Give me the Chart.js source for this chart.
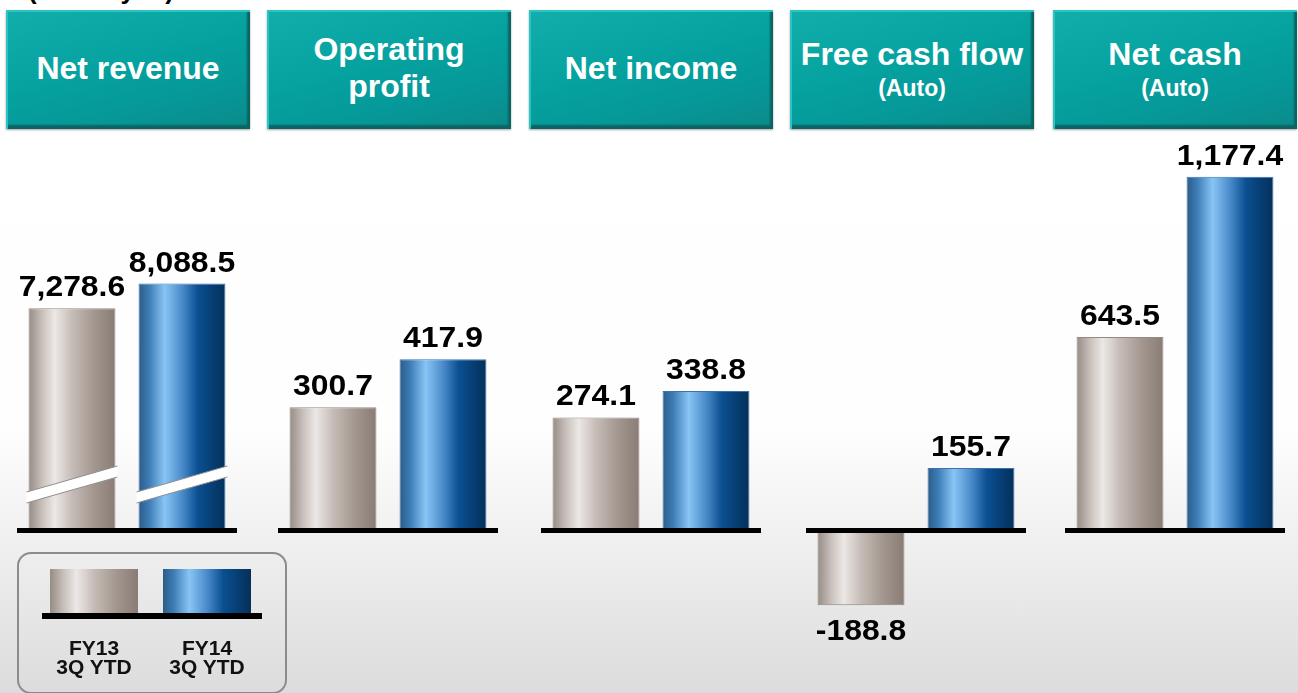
<!DOCTYPE html>
<html>
<head>
<meta charset="utf-8">
<script src="https://cdn.jsdelivr.net/npm/chart.js@4.4.1/dist/chart.umd.min.js"></script>
<style>
    html, body {
        margin: 0;
        padding: 0;
    }

    body {
        width: 1298px;
        height: 693px;
        overflow: hidden;
        position: relative;
        font-family: "Liberation Sans", Arial, sans-serif;
        background: linear-gradient(to bottom, #ffffff 0%, #fefefe 62%, #dcdcdc 100%);
    }

    .unit {
        position: absolute;
        left: 28px;
        top: -23px;
        font-size: 26px;
        line-height: 26px;
        font-weight: bold;
        color: #000;
        white-space: nowrap;
    }

    .head {
        position: absolute;
        top: 10px;
        width: 244px;
        height: 119px;
        box-sizing: border-box;
        display: flex;
        flex-direction: column;
        justify-content: center;
        align-items: center;
        color: #fff;
        font-weight: bold;
        text-align: center;
        background: linear-gradient(165deg, #13aeac 0%, #05a29f 45%, #06999a 70%, #0a8b89 100%);
        box-shadow: inset 2px 2px 0 #2cc4c2, inset -3px -4px 2px #0b6362, 0 1px 2px rgba(0, 0, 0, 0.35);
    }

    .head .main {
        font-size: 32px;
        line-height: 37px;
        margin-top: -3px;
    }

    .head .note {
        font-size: 23px;
        line-height: 26px;
        margin-top: 2px;
    }

    .chart-box {
        position: absolute;
        top: 140px;
        width: 260px;
        height: 520px;
    }

    .legend {
        position: absolute;
        left: 17px;
        top: 552px;
        width: 270px;
        height: 142px;
        box-sizing: border-box;
        border: 2px solid #8c8c8c;
        border-radius: 14px;
    }

    .legend .swatch {
        position: absolute;
        top: 15px;
        width: 88px;
        height: 46px;
    }

    .legend .line {
        position: absolute;
        left: 23px;
        top: 59px;
        width: 220px;
        height: 6px;
        background: #000;
    }

    .legend .lab {
        position: absolute;
        top: 84px;
        width: 110px;
        font-size: 21px;
        line-height: 19px;
        font-weight: bold;
        text-align: center;
        color: #111;
    }
</style>
</head>
<body>

<div class="unit">(billion yen)</div>

<div id="heads"></div>
<div id="charts"></div>
<div class="legend" id="legend"></div>

<script>

    // ============================
    // DATA
    // ============================

    const groups = ['Net revenue', 'Operating profit', 'Net income', 'Free cash flow', 'Net cash'];

    const groupNotes = ['', '', '', '(Auto)', '(Auto)'];

    const seriesLabels = ['FY13 3Q YTD', 'FY14 3Q YTD'];

    const fy13Values = [7278.6, 300.7, 274.1, -188.8, 643.5];

    const fy14Values = [8088.5, 417.9, 338.8, 155.7, 1177.4];

    // each panel has its own scale on the slide
    const axisMax = [12800, 955, 950, 980, 1300];

    // panel 0 is drawn with a break mark
    const brokenGroups = [0];



    // ============================
    // LAYOUT / STYLE
    // ============================

    const headLeft = [6, 267, 529, 790, 1053];
    const baseLeft = [17, 278, 541, 806, 1065];

    const grayStops = [
        [0, '#968b85'],
        [0.14, '#c4bbb6'],
        [0.3, '#ece8e5'],
        [0.5, '#c6bcb7'],
        [0.75, '#a3978f'],
        [1, '#8a7c75']
    ];

    const blueStops = [
        [0, '#2c5c88'],
        [0.12, '#3c7cb5'],
        [0.3, '#88c4f4'],
        [0.5, '#4a8bca'],
        [0.68, '#0b5092'],
        [0.88, '#063b6e'],
        [1, '#05305a']
    ];

    const BAR_PCT = 0.79;

    function cssGradient(stops) {
        return 'linear-gradient(to right, ' +
            stops.map(s => s[1] + ' ' + (s[0] * 100) + '%').join(', ') + ')';
    }

    function formatValue(v) {
        return v.toLocaleString('en-US', {
            minimumFractionDigits: 1,
            maximumFractionDigits: 1
        });
    }

    function barFill(ctx) {
        const chart = ctx.chart;
        const stops = ctx.dataIndex === 0 ? grayStops : blueStops;
        if (ctx.type !== 'data' || !chart.chartArea || !chart.scales.x) {
            return stops[2][1];
        }
        const xs = chart.scales.x;
        const cx = xs.getPixelForValue(ctx.dataIndex);
        const half = (xs.width / 2) * BAR_PCT / 2;
        const g = chart.ctx.createLinearGradient(cx - half, 0, cx + half, 0);
        stops.forEach(s => g.addColorStop(s[0], s[1]));
        return g;
    }



    // ============================
    // HEADER BOXES
    // ============================

    const headWrap = document.getElementById('heads');

    groups.forEach((name, i) => {
        const box = document.createElement('div');
        box.className = 'head';
        box.style.left = headLeft[i] + 'px';

        const main = document.createElement('div');
        main.className = 'main';
        main.innerText = name === 'Operating profit' ? 'Operating\nprofit' : name;
        box.appendChild(main);

        if (groupNotes[i]) {
            const note = document.createElement('div');
            note.className = 'note';
            note.innerText = groupNotes[i];
            box.appendChild(note);
        }

        headWrap.appendChild(box);
    });



    // ============================
    // LEGEND
    // ============================

    const legend = document.getElementById('legend');

    seriesLabels.forEach((label, i) => {
        const sw = document.createElement('div');
        sw.className = 'swatch';
        sw.style.left = (31 + i * 113) + 'px';
        sw.style.background = cssGradient(i === 0 ? grayStops : blueStops);
        legend.appendChild(sw);

        const lab = document.createElement('div');
        lab.className = 'lab';
        lab.style.left = (20 + i * 113) + 'px';
        const parts = label.split(' ');
        lab.innerText = parts[0] + '\n' + parts.slice(1).join(' ');
        legend.appendChild(lab);
    });

    const legLine = document.createElement('div');
    legLine.className = 'line';
    legend.appendChild(legLine);



    // ============================
    // PLUGIN: baseline, break, labels
    // ============================

    const panelDecor = {
        id: 'panelDecor',
        afterDatasetsDraw(chart) {
            const c = chart.ctx;
            const area = chart.chartArea;
            const y0 = chart.scales.y.getPixelForValue(0);
            const meta = chart.getDatasetMeta(0);
            const idx = chart.options.plugins.panelDecor.index;

            // break marks
            if (brokenGroups.includes(idx)) {
                meta.data.forEach(el => {
                    const x1 = el.x - el.width / 2 - 2;
                    const x2 = el.x + el.width / 2 + 2;
                    const yl = y0 - 27;
                    const rise = 26;
                    const th = 11;
                    c.save();
                    c.fillStyle = '#ffffff';
                    c.beginPath();
                    c.moveTo(x1, yl);
                    c.lineTo(x2, yl - rise);
                    c.lineTo(x2, yl - rise - th);
                    c.lineTo(x1, yl - th);
                    c.closePath();
                    c.fill();
                    c.strokeStyle = '#8f8f8f';
                    c.lineWidth = 1;
                    c.beginPath();
                    c.moveTo(x1, yl);
                    c.lineTo(x2, yl - rise);
                    c.moveTo(x1, yl - th);
                    c.lineTo(x2, yl - rise - th);
                    c.stroke();
                    c.restore();
                });
            }

            // zero line
            c.save();
            c.fillStyle = '#000';
            c.fillRect(area.left, y0 - 2, area.right - area.left, 5);
            c.restore();

            // value labels
            const values = chart.data.datasets[0].data;
            c.save();
            c.fillStyle = '#000';
            c.font = 'bold 29px "Liberation Sans", Arial, sans-serif';
            c.textAlign = 'center';
            c.textBaseline = 'alphabetic';
            meta.data.forEach((el, k) => {
                const v = values[k];
                const ty = v >= 0 ? el.y - 12 : el.y + 35;
                c.save();
                c.translate(el.x, ty);
                c.scale(1.1, 1);
                c.fillText(formatValue(v), 0, 0);
                c.restore();
            });
            c.restore();
        }
    };



    // ============================
    // PANELS
    // ============================

    const chartWrap = document.getElementById('charts');

    groups.forEach((name, i) => {

        const box = document.createElement('div');
        box.className = 'chart-box';
        box.style.left = (baseLeft[i] - 20) + 'px';

        const canvas = document.createElement('canvas');
        canvas.width = 260;
        canvas.height = 520;
        box.appendChild(canvas);
        chartWrap.appendChild(box);

        new Chart(canvas.getContext('2d'), {

            type: 'bar',

            data: {
                labels: seriesLabels,
                datasets: [{
                    label: name,
                    data: [fy13Values[i], fy14Values[i]],
                    backgroundColor: barFill,
                    borderColor: ['rgba(120,108,102,0.8)', 'rgba(40,100,160,0.9)'],
                    borderWidth: 1,
                    borderSkipped: false,
                    categoryPercentage: 1,
                    barPercentage: BAR_PCT
                }]
            },

            options: {
                responsive: false,
                animation: false,
                devicePixelRatio: 1,
                layout: {
                    padding: { left: 20, right: 20, top: 0, bottom: 0 }
                },
                scales: {
                    x: {
                        display: false
                    },
                    y: {
                        display: false,
                        min: -axisMax[i] / 3,
                        max: axisMax[i]
                    }
                },
                plugins: {
                    legend: { display: false },
                    tooltip: { enabled: false },
                    panelDecor: { index: i }
                }
            },

            plugins: [panelDecor]

        });

    });

</script>
</body>
</html>
